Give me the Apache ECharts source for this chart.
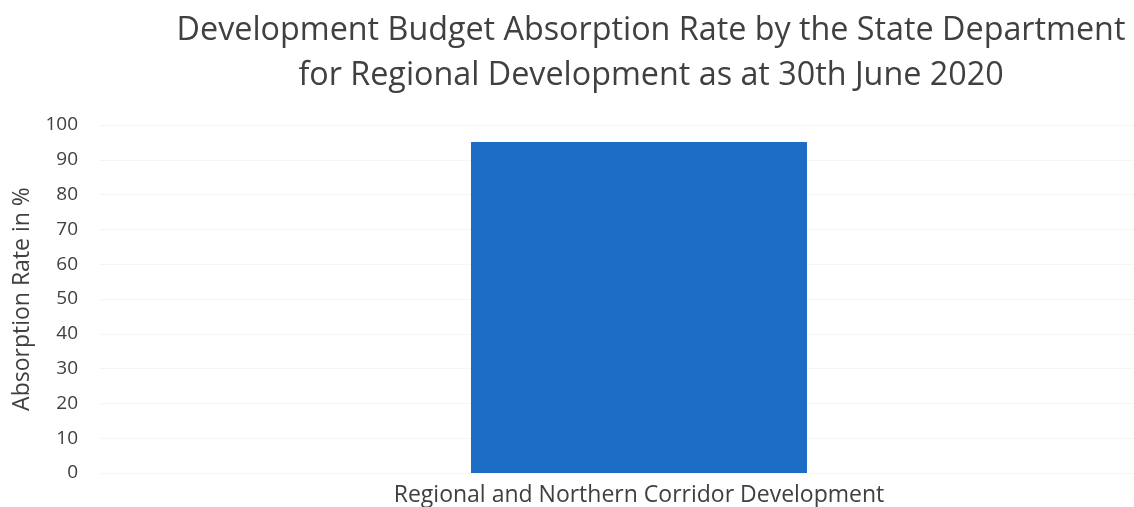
<!DOCTYPE html>
<html><head><meta charset="utf-8">
<script src="https://cdn.jsdelivr.net/npm/echarts@6/dist/echarts.min.js"></script>
<style>html,body{margin:0;padding:0;background:#fff}#c{width:1134px;height:507px}</style>
</head><body><div id="c"></div>
<script>
var categories = ["Regional and Northern Corridor Development"];
var absorptionRate = [95.1];
var titleLines = ["Development Budget Absorption Rate by the State Department", "for Regional Development as at 30th June 2020"];
var yAxisName = "Absorption Rate in %";

var chart = echarts.init(document.getElementById('c'));
chart.setOption({
  animation: false,
  title: {
    text: titleLines.join('\n'),
    left: 646, top: 3, textAlign: 'center',
    textStyle: {fontFamily: 'Open Sans', fontSize: 32.3, fontWeight: 'normal', color: '#404040', lineHeight: 45}
  },
  grid: {left: 100, top: 125, bottom: 34, width: 1078, outerBoundsMode: 'none', containLabel: false},
  xAxis: {
    type: 'category', data: categories,
    axisLine: {show: false}, axisTick: {show: false},
    axisLabel: {fontFamily: 'Open Sans', fontSize: 23, color: '#404040', margin: 11}
  },
  yAxis: {
    type: 'value', min: 0, max: 100, interval: 10,
    name: yAxisName, nameLocation: 'middle', nameGap: 66, nameRotate: 90,
    nameTextStyle: {fontFamily: 'Open Sans', fontSize: 23, color: '#404040'},
    axisLine: {show: false}, axisTick: {show: false},
    axisLabel: {fontFamily: 'Open Sans', fontSize: 19, color: '#404040', margin: 22},
    splitLine: {lineStyle: {color: '#f5f5f5'}}
  },
  series: [{
    type: 'bar', data: absorptionRate, barWidth: 336,
    itemStyle: {color: '#1B6EC3'}
  }]
});
</script></body></html>
